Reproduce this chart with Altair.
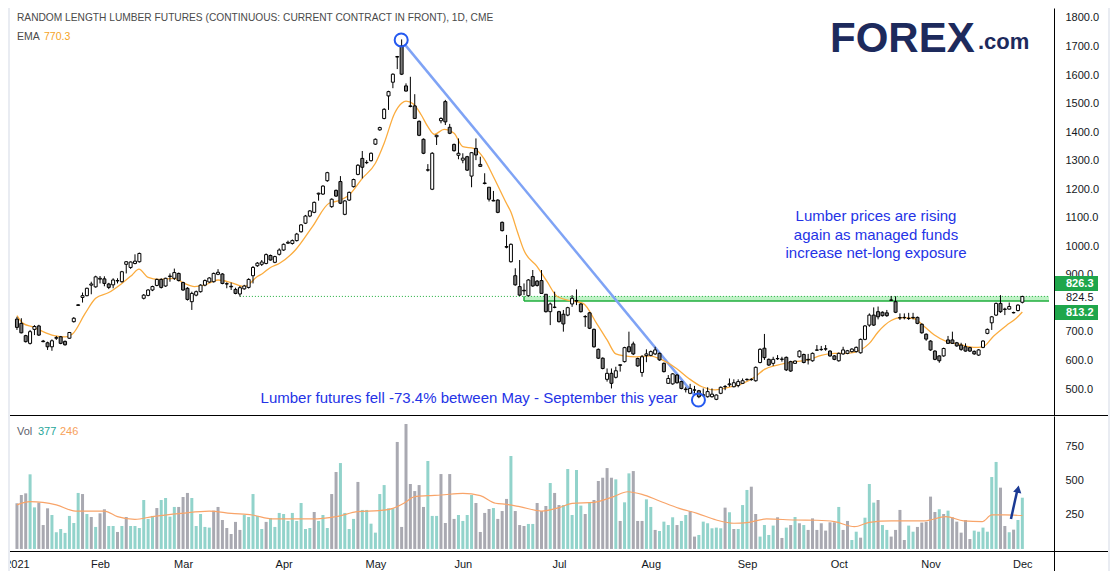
import json
import altair as alt
import pandas as pd

# ---------------- data ----------------
opens = [745,730,687,660,709,721,668,662,648,678, 683,667,678,736,795,821,827,864,858,885,
 886,868,865,880,876,937,926,940,946,818, 828,847,863,884,861,894,888,905,873,853,
 806,829,841,864,875,876,902,903,869,860, 849,833,851,856,897,932,937,940,968,944,
 972,987,1011,1010,1020,1051,1081,1106,1119,1183, 1183,1230,1139,1196,1227,1112,1162,1209,1252,1308,
 1293,1300,1358,1408,1448,1527,1575,1663,1702,1562, 1492,1492,1438,1375,1268,1200,1384,1440,1507,1417,
 1357,1319,1302,1314,1246,1343,1287,1222,1207,1161, 1162,1084,999,946,897,859,846,827,894,878,
 880,832,771,787,771,762,759,798,810,798, 754,767,709,639,608,534,555,541,585,596,
 648,658,607,558,617,618,623,625,590,520, 518,549,526,500,485,497,494,480,473,473,
 464,485,508,515,508,512,520,533,533,529, 593,643,604,590,607,604,611,596,590,613,
 621,604,599,636,638,640,633,616,599,623, 625,631,631,627,674,724,759,771,769,767,
 812,806,750,751,747,751,751,727,692,668, 633,616,616,672,672,662,654,648,645,632,
 619,646,695,732,759,800,780,780,768,775, 804]
highs = [753,748,690,707,724,725,672,666,674,686, 686,670,700,752,797,838,855,876,897,896,
 895,872,888,888,914,948,947,972,978,833, 850,862,887,888,890,905,922,908,876,857,
 841,845,867,884,892,908,920,906,874,873, 855,861,865,888,931,945,952,975,971,967,
 993,1010,1020,1024,1047,1078,1110,1127,1157,1188, 1214,1261,1168,1199,1246,1162,1192,1237,1288,1334,
 1302,1329,1378,1419,1484,1545,1606,1667,1725,1571, 1594,1533,1441,1378,1288,1330,1391,1452,1513,1429,
 1360,1378,1326,1317,1330,1378,1314,1256,1207,1194, 1165,1087,1040,1010,923,952,870,885,917,882,
 917,832,803,841,774,777,788,829,849,801, 759,770,712,642,611,572,572,578,585,648,
 701,666,610,619,639,635,648,628,593,549, 556,552,529,508,518,511,497,502,506,502,
 481,509,514,537,534,534,537,537,538,579, 643,693,607,613,619,613,614,599,600,636,
 624,623,628,654,651,654,636,619,628,648, 637,643,649,677,724,765,786,789,772,777,
 826,825,765,765,767,767,754,730,695,671, 636,618,645,686,701,665,662,660,648,635,
 640,671,712,756,803,829,785,803,771,797, 827]
lows = [707,695,663,656,689,686,664,637,634,672, 657,652,676,733,792,803,825,832,855,870,
 860,850,853,870,873,905,921,937,943,814, 825,843,860,852,858,876,882,877,844,810,
 777,825,838,860,872,873,899,867,853,847, 832,824,848,852,870,928,931,937,950,941,
 968,984,1008,1006,1017,1048,1078,1102,1116,1160, 1180,1226,1135,1173,1148,1109,1159,1206,1249,1238,
 1288,1297,1355,1405,1445,1478,1554,1621,1600,1542, 1487,1446,1386,1323,1262,1197,1355,1431,1425,1393,
 1332,1305,1291,1264,1207,1302,1279,1217,1157,1158, 1116,1052,993,943,862,826,829,824,858,859,
 835,768,724,783,733,701,755,788,794,768, 718,710,645,605,569,526,502,537,561,593,
 628,619,578,543,594,615,619,599,558,518, 515,519,499,488,482,485,468,473,470,470,
 461,482,496,508,506,506,518,529,529,526, 590,602,581,581,602,596,563,560,588,610,
 590,586,596,634,634,634,613,601,596,620, 622,628,628,624,671,718,721,744,754,753,
 809,766,742,744,742,744,727,694,669,634, 601,592,613,658,658,648,634,631,630,620,
 616,643,692,707,756,767,759,779,765,772, 800]
closes = [716,697,666,701,719,689,666,648,669,680, 660,655,698,748,793,827,853,868,893,888,
 870,856,882,879,911,946,945,948,975,829, 847,859,884,856,888,896,908,880,847,814,
 835,841,864,880,889,905,909,870,868,858, 835,855,861,884,926,941,945,971,952,964,
 987,1007,1014,1020,1043,1075,1106,1124,1154,1186, 1211,1258,1165,1176,1151,1159,1189,1234,1284,1277,
 1294,1326,1375,1416,1480,1542,1603,1665,1603,1544, 1490,1448,1389,1326,1267,1326,1389,1448,1436,1396,
 1335,1326,1309,1267,1328,1320,1280,1220,1165,1159, 1119,1055,997,1007,865,829,844,882,861,863,
 835,771,798,786,736,728,785,818,808,771, 753,713,648,608,572,555,520,564,583,645,
 631,623,581,613,623,631,637,602,561,537, 553,522,502,498,502,496,473,478,491,482,
 479,506,509,518,522,526,529,534,534,576, 639,610,584,604,606,605,567,563,598,633,
 593,602,625,637,639,641,616,604,625,637, 634,640,646,674,721,759,724,753,757,757,
 811,769,749,750,748,750,730,697,675,637, 604,599,642,660,660,651,639,633,633,623,
 637,668,709,753,800,771,779,789,767,794, 824]

volumes = [336,397,409,549,306,341,176,299,250,123, 147,118,243,191,412,404,257,235,162,262,
 292,169,169,125,169,235,169,169,154,360, 221,243,301,360,375,238,309,309,382,412,
 375,169,257,162,157,282,309,213,154,110, 199,140,250,235,404,243,147,199,228,162,
 265,257,206,265,206,338,147,154,272,206, 250,154,404,566,632,265,147,221,493,287,
 287,186,120,404,470,299,299,787,162,919, 478,426,470,309,647,243,243,551,191,551,
 221,250,206,250,397,338,125,265,294,301, 221,279,368,684,279,176,169,184,184,338,
 279,316,485,412,323,
 323,588,250,581,319,257,343,360,500,524, 595,524,512,206,343,556,573,206,206,365,
 309,140,132,201,176,233,176,206,250,279, 91,103,201,189,152,157,152,304,270,147,
 147,323,434,458,257,91,176,103,172,233, 81,157,176,235,189,176,140,225,140,189,
 135,196,196,309,140,206,66,127,83,230, 478,341,360,176,140,91,140,287,66,172,
 127,162,194,201,385,272,292,257,282,233, 201,120,213,73,135,127,157,127,529,640,
 451,169,123,142,213,377]
vol_dir = [
 "d","d","d","u","u","d","d","d","u","u", "u","u","u","u","u","d","u","d","u","d",
 "d","u","u","d","u","d","u","u","u","u", "u","u","d","u","u","u","u","d","d","d",
 "u","u","u","u","u","d","d","d","d","d", "d","d","u","u","u","u","u","d","u","u",
 "u","u","u","u","u","u","u","u","d","u", "u","u","d","d","u","u","u","u","d","u",
 "u","u","u","u","u","u","u","d","d","d", "d","d","d","d","u","u","u","d","d","d",
 "d","u","u","u","u","d","d","d","d","u", "d","d","d","u","d","d","d","u","u","d",
 "d","d","u","d","d",
 "u","u","u","u","u","d","u","d","d","d", "d","d","u","d","u","u","d","d","d","u",
 "u","d","u","u","u","u","d","u","u","d", "d","u","u","u","u","u","u","d","u","d",
 "u","u","u","d","d","u","u","u","u","d", "d","u","d","u","d","u","d","d","d","d",
 "d","d","d","u","d","d","u","u","d","u", "u","u","d","u","u","d","d","d","d","u",
 "u","d","d","d","d","d","u","d","u","d", "d","d","d","d","u","u","u","u","u","u",
 "d","d","u","d","u","u"]

ema_pos = [0,1.4,3.6,6.6,8.8,11,12.7,15.6,18,21,24,26.3,27.9,30,32.4,36,38.3,40.6,42.9,46,49,52,55,56.2,58,60,
 63.7,67.6,71.4,73.7,76,79,82,84,86.4,88,89,90.7,92.5,94,95.5,97.7,100,102,104.5,106.8,109,112,113,114.5,116,
 119,121.3,123.6,126.5,129.5,132.6,135,137,139,141.7,144.7,147.6,150.8,153.7,156.7,159.8,162.8,165.8,168.9,171,
 174,178,181,184,187,190,193,195,197,200,202,205,207.5,209.8,212.7,215.7,218.8,221,223.4,226.3,228.6,230]
ema_val = [757,730,718,697,686,683,693,765,818,838,870,899,920,891,884,888,870,859,864,882,873,859,894,905,926,940,
 987,1069,1151,1160,1180,1238,1291,1361,1466,1501,1509,1499,1460,1419,1392,1410,1396,1349,1343,1308,1244,1150,1120,1050,985,
 929,876,824,810,800,730,672,623,616,613,616,602,573,537,508,497,506,518,543,569,
 584,596,602,618,625,625,637,660,700,740,750,748,720,690,666,656,646,648,685,722,748,770]

vema_pos = [0,3,9,13.4,20,23,27,31,37.6,44,49,53.8,58.6,67.5,73,78,82.8,86,88.5,91,94,97,102,106,109.5,112,115,120,
 124,127,132,136.5,139.7,143,147,151.5,155.6,160,164,167,171.5,178,183,187,191.6,195,200,207.5,212.5,216.6,220.8,223,226,230]
vema_val = [324,348,324,279,279,238,218,238,262,279,262,250,221,221,238,274,282,299,336,385,392,397,409,392,336,328,311,279,
 304,336,343,385,421,402,353,299,262,213,189,194,221,213,211,201,164,196,206,206,238,206,201,250,250,246]

month_labels = ["2021","Feb","Mar","Apr","May","Jun","Jul","Aug","Sep","Oct","Nov","Dec"]
month_pos = [0,19,38,61,82,102,124,145,167,188,209,230]
price_ticks = [500,600,700,800,900,1000,1100,1200,1300,1400,1500,1600,1700,1800]
vol_ticks = [250,500,750]

# ---------------- layout ----------------
W = 1044          # plot width
H1 = 407          # price pane height
V0 = 408          # top of volume pane
H = 543           # total plot height (volume pane bottom)
FONT = "Liberation Sans"
LABEL_COLOR = "#131722"
BLUE_TXT = "#2433e6"
FRAME = "#e9ecf2"

n = len(opens)
assert len(highs) == n and len(lows) == n and len(closes) == n
assert len(volumes) == len(vol_dir)
df = pd.DataFrame({"i": list(range(n)), "o": opens, "h": highs, "l": lows, "c": closes})
vdf = pd.DataFrame({"i": list(range(len(volumes))), "v": volumes, "d": vol_dir})
ema_df = pd.DataFrame({"i": ema_pos, "e": ema_val})
vema_df = pd.DataFrame({"i": vema_pos, "e": vema_val})

xs = alt.Scale(domain=[-0.45, 236.1], nice=False, zero=False)
ys = alt.Scale(domain=[409, 1835], range=[H1, 0], nice=False, zero=False)
vs = alt.Scale(domain=[-15, 978], range=[H, V0], nice=False, zero=False)

PY_AXIS = alt.Axis(orient="right", values=price_ticks, format=".1f", ticks=False, labelPadding=11,
                   domainColor="#000000", domainWidth=1, grid=False, title=None, zindex=0,
                   labelFont=FONT, labelFontSize=11, labelColor=LABEL_COLOR)
VY_AXIS = alt.Axis(orient="right", values=vol_ticks, format="d", ticks=False, labelPadding=11,
                   domainColor="#000000", domainWidth=1, grid=False, title=None, zindex=0,
                   labelFont=FONT, labelFontSize=11, labelColor=LABEL_COLOR)
label_expr = f"{json.dumps(month_labels)}[indexof({json.dumps(month_pos)}, datum.value)]"
X_AXIS = alt.Axis(orient="bottom", values=month_pos, labelExpr=label_expr, ticks=False,
                  labelPadding=7, domainColor="#000000", domainWidth=1, grid=False, title=None,
                  zindex=0, labelFont=FONT, labelFontSize=11, labelColor=LABEL_COLOR)


def X(field="i"):
    return alt.X(f"{field}:Q", scale=xs, axis=X_AXIS)


def PY(field):
    return alt.Y(f"{field}:Q", scale=ys, axis=PY_AXIS)


def VY(field):
    return alt.Y(f"{field}:Q", scale=vs, axis=VY_AXIS)


def txt(text, x, y, size, color, align="left", weight="normal", font=FONT, baseline="middle"):
    return alt.Chart(pd.DataFrame({"t": [text]})).mark_text(
        align=align, baseline=baseline, fontSize=size, color=color, font=font, fontWeight=weight
    ).encode(x=alt.value(x), y=alt.value(y), text="t:N")


def box(x1, x2, y1, y2, color):
    return alt.Chart(pd.DataFrame({"a": [0]})).mark_rect(color=color).encode(
        x=alt.value(x1), x2=alt.value(x2), y=alt.value(y1), y2=alt.value(y2))


def hline(y, x1, x2, color="#000000", width=1):
    return alt.Chart(pd.DataFrame({"a": [0]})).mark_rule(color=color, strokeWidth=width).encode(
        x=alt.value(x1), x2=alt.value(x2), y=alt.value(y))


def vline(x, y1, y2, color="#000000", width=1):
    return alt.Chart(pd.DataFrame({"a": [0]})).mark_rule(color=color, strokeWidth=width).encode(
        x=alt.value(x), y=alt.value(y1), y2=alt.value(y2))


# ---- price pane ----
zone_df = pd.DataFrame({"i": [116], "i2": [236.1], "p": [808], "p2": [825]})
zone = alt.Chart(zone_df).mark_rect(color="#bff2c6").encode(x=X(), x2="i2:Q", y=PY("p"), y2="p2:Q")
zone_bottom = alt.Chart(zone_df).mark_rule(color="#1fae3c", strokeWidth=1.5).encode(x=X(), x2="i2:Q", y=PY("p"))
zone_left = alt.Chart(zone_df).mark_rule(color="#1fae3c", strokeWidth=1.5).encode(x=X(), y=PY("p"), y2="p2:Q")
dot_df = pd.DataFrame({"i": [51], "i2": [236.1], "p": [824.5]})
dotted = alt.Chart(dot_df).mark_rule(color="#1fae3c", strokeWidth=1, strokeDash=[1, 2]).encode(
    x=X(), x2="i2:Q", y=PY("p"))

trend_df = pd.DataFrame({"i": [88.9, 154.9], "p": [1704, 480.5]})
trend = alt.Chart(trend_df).mark_line(color="#7fa3f5", strokeWidth=2.5).encode(x=X(), y=PY("p"))
circ_df = pd.DataFrame({"i": [87.9, 155.9], "p": [1723, 461.5]})
circles = alt.Chart(circ_df).mark_point(shape="circle", size=170, filled=False, color="#2459f0",
                                        strokeWidth=2, opacity=1).encode(x=X(), y=PY("p"))

wick = alt.Chart(df).mark_rule(color="#000000", strokeWidth=1).encode(x=X(), y=PY("l"), y2="h:Q")
body = alt.Chart(df).mark_bar(size=3, stroke="#000000", strokeWidth=1).encode(
    x=X(), y=PY("o"), y2="c:Q",
    fill=alt.condition("datum.c >= datum.o", alt.value("#ffffff"), alt.value("#7b7b7b")))
ema = alt.Chart(ema_df).mark_line(color="#fbac3e", strokeWidth=1.3, interpolate="monotone").encode(
    x=X(), y=PY("e"))

title_t = txt("RANDOM LENGTH LUMBER FUTURES (CONTINUOUS: CURRENT CONTRACT IN FRONT), 1D, CME",
              7, 10, 10.2, "#4a4a4a")
ema_t = txt("EMA", 7, 29, 10.5, "#4a4a4a")
ema_v = txt("770.3", 34, 29, 10.5, "#f6a31f")
logo1 = txt("FOREX", 820, 44, 42, "#1d2a5c", weight="bold", baseline="alphabetic")
logo2 = txt(".com", 968, 41, 22, "#1d2a5c", weight="bold", baseline="alphabetic")
ann1 = txt("Lumber prices are rising", 866, 208, 15, BLUE_TXT, align="center")
ann2 = txt("again as managed funds", 866, 227, 15, BLUE_TXT, align="center")
ann3 = txt("increase net-long exposure", 866, 245, 15, BLUE_TXT, align="center")
ann4 = txt("Lumber futures fell -73.4% between May - September this year", 459, 390, 15, BLUE_TXT,
           align="center")

wbox = box(W + 1, W + 52, 283, 297, "#ffffff")
box1 = box(W + 1, W + 44, 268, 283, "#1fa64b")
box2 = box(W + 1, W + 44, 297, 312, "#1fa64b")
lab1 = txt("826.3", W + 12, 276, 11, "#ffffff", weight="bold")
lab2 = txt("824.5", W + 12, 290, 11, "#131722")
lab3 = txt("813.2", W + 12, 305, 11, "#ffffff", weight="bold")

price = alt.layer(
    zone, zone_bottom, zone_left, dotted, trend, ema, wick, body, circles,
    title_t, ema_t, ema_v, logo1, logo2, ann1, ann2, ann3, ann4,
    wbox, box1, box2, lab1, lab2, lab3,
)

# ---- volume pane ----
vbars = alt.Chart(vdf).mark_bar(size=3).encode(
    x=X(), y=VY("v"),
    color=alt.Color("d:N", scale=alt.Scale(domain=["u", "d"], range=["#92d3cb", "#a9a9b1"]), legend=None))
vema = alt.Chart(vema_df).mark_line(color="#f8a469", strokeWidth=1.2, interpolate="monotone").encode(
    x=X(), y=VY("e"))
arrow_df = pd.DataFrame({"i": [227.4], "v": [221], "i2": [228.8], "v2": [425]})
arrow = alt.Chart(arrow_df).mark_rule(color="#1b3a94", strokeWidth=2.5).encode(
    x=X(), x2="i2:Q", y=VY("v"), y2="v2:Q")
head_df = pd.DataFrame({"i": [229.0], "v": [440]})
head = alt.Chart(head_df).mark_point(shape="triangle-up", size=70, filled=True, color="#1b3a94",
                                     angle=12, opacity=1).encode(x=X(), y=VY("v"))
sep_line = hline(V0 - 0.5, 0, 1100)
bot_line = hline(H + 0.5, 0, 1098)
right_line = vline(W + 0.5, H, H + 30)
clip_sliver = box(-3, 0, H + 2, H + 25, "#ffffff")
frame_left = vline(-1, -2, H + 30, FRAME, 2)
frame_right = box(1098, 1102, -2, H + 30, FRAME)
vol_t = txt("Vol", 7, V0 + 16, 11, "#5d606b")
vol_v1 = txt("377", 28, V0 + 16, 11, "#26a69a")
vol_v2 = txt("246", 50, V0 + 16, 11, "#f7a15a")

volume = alt.layer(vbars, vema, arrow, head, sep_line, bot_line, right_line, clip_sliver,
                   frame_left, frame_right, vol_t, vol_v1, vol_v2)

chart = alt.layer(price, volume).resolve_scale(y="independent").resolve_axis(y="independent").properties(
    width=W, height=H,
    autosize=alt.AutoSizeParams(type="none"),
    padding={"left": 2, "top": 0, "right": 56, "bottom": 20},
    background="#ffffff",
).configure_view(stroke=None)

chart.save("out.html", embed_options={"renderer": "svg", "actions": False})
